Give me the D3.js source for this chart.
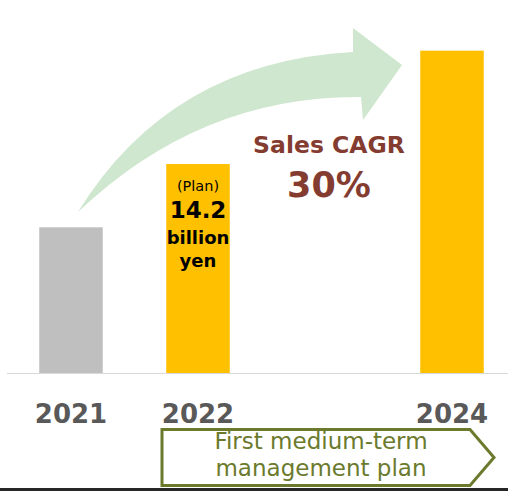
<!DOCTYPE html>
<html>
<head>
<meta charset="utf-8">
<script src="https://cdn.jsdelivr.net/npm/d3@7"></script>
<style>
  body { margin: 0; background: #fff; }
  svg { display: block; font-family: "DejaVu Sans", Verdana, sans-serif; }
</style>
</head>
<body>
<div id="chart"></div>
<script>
// DATA
const years = ["2021", "2022", "2023", "2024"];
const sales = [9.9, 14.2, null, 21.9];          // billion yen (2023 not shown)
const barColors = ["#bfbfbf", "#ffc000", null, "#ffc000"];
const yearLabels = ["2021", "2022", "", "2024"];

const width = 508, height = 492;

const svg = d3.select("#chart")
    .append("svg")
    .attr("width", width)
    .attr("height", height);

// SCALES
const xs = d3.scaleBand()
    .domain(years)
    .range([7.5, 515.5])
    .paddingInner(0.5)
    .paddingOuter(0.25);

const ys = d3.scaleLinear()
    .domain([0, 24])
    .range([373, 19.8]);

// growth arrow (drawn behind the bars)
svg.append("path")
    .attr("d", "M78,212 Q170.5,62 353,52 L353,28 L402,65 L363,120 L361,97 Q200.5,95.5 78,212 Z")
    .style("fill", "#cfe6cf");

// BARS
const barData = years.map((y, i) => ({ year: y, value: sales[i], color: barColors[i], label: yearLabels[i] }));

svg.append("g")
    .selectAll("rect")
    .data(barData.filter(d => d.value != null))
    .enter()
    .append("rect")
    .attr("x", d => xs(d.year))
    .attr("y", d => ys(d.value))
    .attr("width", xs.bandwidth())
    .attr("height", d => ys(0) - ys(d.value))
    .style("fill", d => d.color);

// baseline
svg.append("line")
    .attr("x1", 7)
    .attr("x2", width)
    .attr("y1", ys(0) + 0.5)
    .attr("y2", ys(0) + 0.5)
    .attr("stroke", "#d9d9d9")
    .attr("stroke-width", 1);

// year labels
svg.append("g")
    .selectAll("text")
    .data(barData.filter(d => d.label))
    .enter()
    .append("text")
    .attr("x", d => xs(d.year) + xs.bandwidth() / 2)
    .attr("y", 423)
    .attr("text-anchor", "middle")
    .style("font-size", "26px")
    .style("font-weight", "bold")
    .style("fill", "#595959")
    .text(d => d.label);

// label inside 2022 bar
const cx22 = xs("2022") + xs.bandwidth() / 2;
svg.append("text")
    .attr("x", cx22).attr("y", 191)
    .attr("text-anchor", "middle")
    .style("font-size", "14.5px")
    .style("fill", "#000")
    .text("(Plan)");
svg.append("text")
    .attr("x", cx22).attr("y", 218)
    .attr("text-anchor", "middle")
    .style("font-size", "23px")
    .style("font-weight", "bold")
    .style("fill", "#000")
    .text("14.2");
svg.append("text")
    .attr("x", cx22).attr("y", 244)
    .attr("text-anchor", "middle")
    .style("font-size", "18px")
    .style("font-weight", "bold")
    .style("fill", "#000")
    .text("billion");
svg.append("text")
    .attr("x", cx22).attr("y", 267)
    .attr("text-anchor", "middle")
    .style("font-size", "18px")
    .style("font-weight", "bold")
    .style("fill", "#000")
    .text("yen");

// CAGR annotation
svg.append("text")
    .attr("x", 329).attr("y", 153)
    .attr("text-anchor", "middle")
    .style("font-size", "23.5px")
    .style("font-weight", "bold")
    .style("fill", "#843c30")
    .text("Sales CAGR");
svg.append("text")
    .attr("x", 329).attr("y", 197)
    .attr("text-anchor", "middle")
    .style("font-size", "35px")
    .style("font-weight", "bold")
    .style("fill", "#843c30")
    .text("30%");

// medium-term plan box
svg.append("path")
    .attr("d", "M162,429.5 L470,429.5 L494,457.5 L470,485.5 L162,485.5 Z")
    .style("fill", "#fff")
    .style("stroke", "#6b7a2c")
    .style("stroke-width", 3);
svg.append("text")
    .attr("x", 321).attr("y", 449)
    .attr("text-anchor", "middle")
    .style("font-size", "23px")
    .style("fill", "#6b7a2c")
    .text("First medium-term");
svg.append("text")
    .attr("x", 321).attr("y", 476)
    .attr("text-anchor", "middle")
    .style("font-size", "23px")
    .style("fill", "#6b7a2c")
    .text("management plan");

// bottom rule
svg.append("line")
    .attr("x1", 0).attr("x2", width)
    .attr("y1", 489.5).attr("y2", 489.5)
    .attr("stroke", "#262626")
    .attr("stroke-width", 3);
</script>
</body>
</html>
